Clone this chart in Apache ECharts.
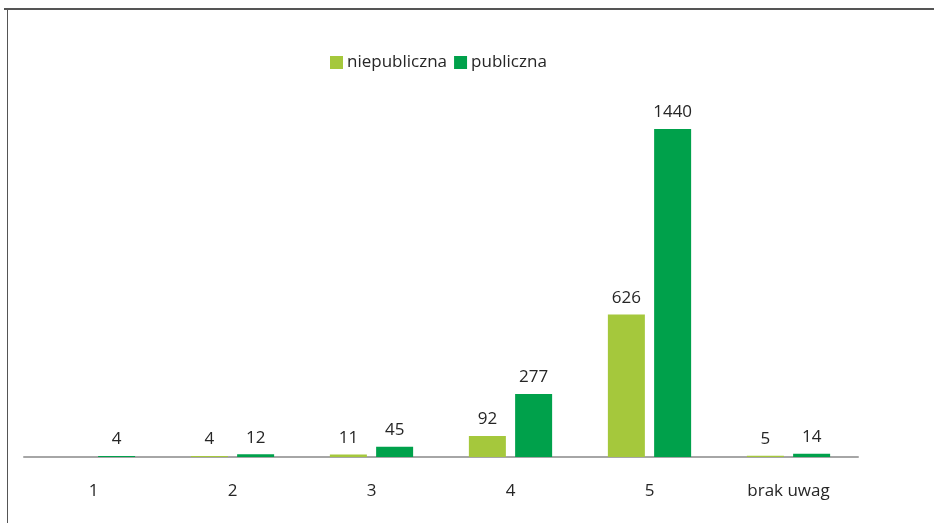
<!DOCTYPE html>
<html>
<head>
<meta charset="utf-8">
<script src="https://cdn.jsdelivr.net/npm/echarts@6/dist/echarts.min.js"></script>
<style>
html,body{margin:0;padding:0;background:#fff;}
#chart{width:934px;height:523px;}
</style>
</head>
<body>
<div id="chart"></div>
<script>
const categories = ['1', '2', '3', '4', '5', 'brak uwag'];
const niepubliczna = [null, 4, 11, 92, 626, 5];
const publiczna = [4, 12, 45, 277, 1440, 14];
const seriesNames = ['niepubliczna', 'publiczna'];

const FONT = '"Open Sans", "Noto Sans", sans-serif';
const chart = echarts.init(document.getElementById('chart'), null, {renderer: 'canvas'});
const labelStyle = {show: true, position: 'top', distance: 8, color: '#262626', fontSize: 17, fontFamily: FONT};
chart.setOption({
  animation: false,
  backgroundColor: '#fff',
  graphic: [
    {type: 'line', shape: {x1: 4, y1: 9, x2: 934, y2: 9}, style: {stroke: '#555', lineWidth: 2}},
    {type: 'line', shape: {x1: 7.5, y1: 9, x2: 7.5, y2: 523}, style: {stroke: '#555', lineWidth: 1}}
  ],
  legend: {
    left: 325, top: 49,
    itemWidth: 13, itemHeight: 13, itemGap: 7,
    icon: 'rect',
    textStyle: {fontSize: 17, color: '#262626', fontFamily: FONT, padding: [0, 0, 0, -1]},
    data: seriesNames
  },
  grid: {left: 24, right: 76, top: 92.5, bottom: 66, containLabel: false},
  xAxis: {
    type: 'category', data: categories,
    axisLine: {lineStyle: {color: '#a6a6a6', width: 2}},
    axisTick: {show: false},
    axisLabel: {color: '#262626', fontSize: 17, fontFamily: FONT, margin: 26}
  },
  yAxis: {type: 'value', min: 0, max: 1600, show: false, splitLine: {show: false}},
  series: [
    {name: seriesNames[0], type: 'bar', data: niepubliczna, barWidth: 37, barGap: '25%',
     itemStyle: {color: '#a5c83c'}, label: labelStyle},
    {name: seriesNames[1], type: 'bar', data: publiczna, barWidth: 37,
     itemStyle: {color: '#00a14b'}, label: labelStyle}
  ]
});
</script>
</body>
</html>
